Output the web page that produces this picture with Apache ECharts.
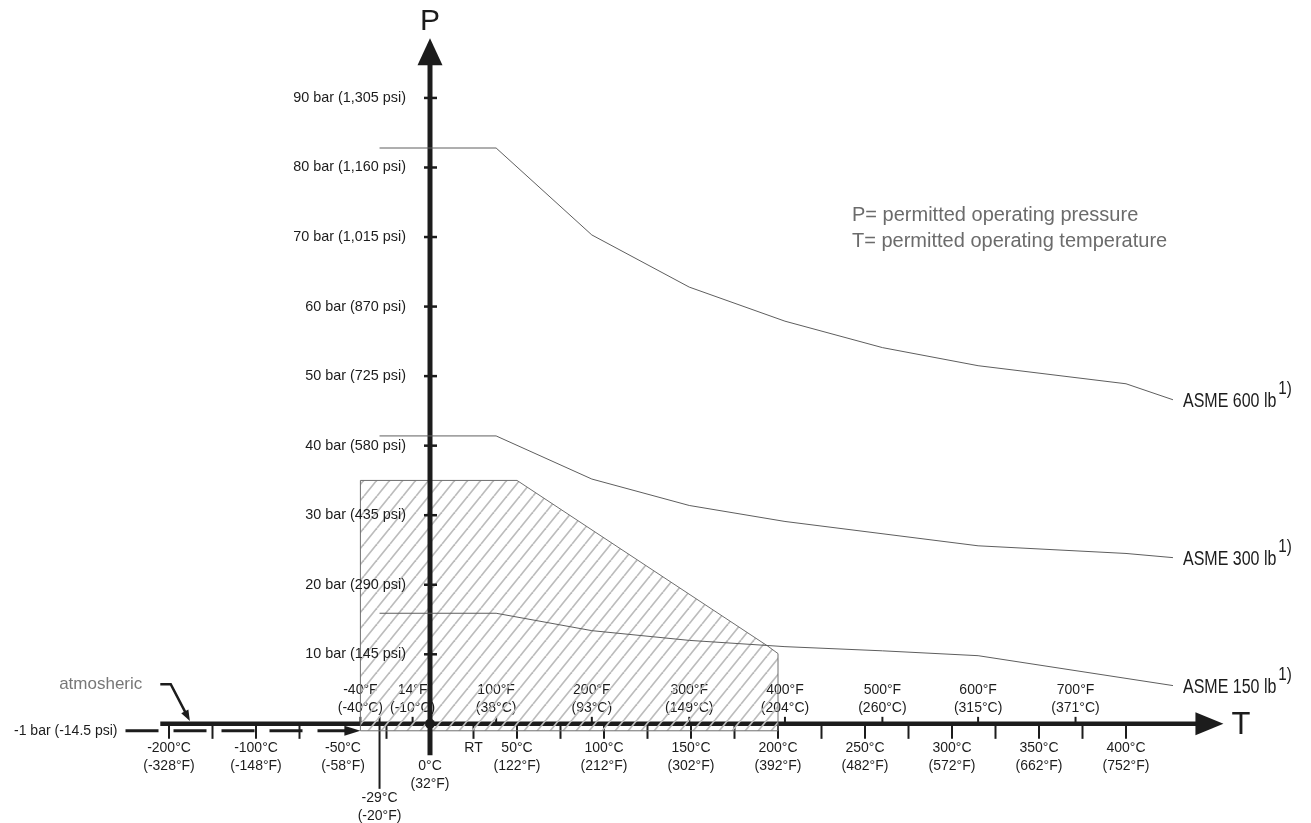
<!DOCTYPE html>
<html><head><meta charset="utf-8">
<script src="https://cdn.jsdelivr.net/npm/echarts@6/dist/echarts.min.js"></script>
<style>html,body{margin:0;padding:0;background:#fff}#c{width:1311px;height:823px}</style>
</head><body><div id="c"></div>
<script>
// ---------------- data ----------------
const asmeNames = ['ASME 150 lb', 'ASME 300 lb', 'ASME 600 lb'];
const temps150 = [-29, 38, 93, 149, 204, 260, 315, 427];
const press150 = [15.9, 15.9, 13.4, 12.0, 11.1, 10.5, 9.8, 5.5];
const temps300 = [-29, 38, 93, 149, 204, 315, 400, 427];
const press300 = [41.4, 41.4, 35.2, 31.4, 29.1, 25.6, 24.5, 23.9];
const temps600 = [-29, 38, 93, 149, 204, 260, 315, 400, 427];
const press600 = [82.8, 82.8, 70.3, 62.8, 57.9, 54.1, 51.5, 48.9, 46.6];
const zoneTemps = [-40, -40, 50, 194, 200, 200];
const zonePress = [-1, 35, 35, 11.2, 10.1, -1];
const pressTicks = [10, 20, 30, 40, 50, 60, 70, 80, 90];
const pressLabels = ['10 bar (145 psi)', '20 bar (290 psi)', '30 bar (435 psi)', '40 bar (580 psi)', '50 bar (725 psi)',
  '60 bar (870 psi)', '70 bar (1,015 psi)', '80 bar (1,160 psi)', '90 bar (1,305 psi)'];
const vacPress = -1;
const vacLabel = '-1 bar (-14.5 psi)';
const vacLineTemps = [-175, -40];
const cTicks = [-150, -125, -100, -75, -25, 25, 50, 75, 100, 125, 150, 175, 200, 225, 250, 275, 300, 325, 350, 375, 400];
const cLabelTemps = [-150, -100, -50, 0, 25, 50, 100, 150, 200, 250, 300, 350, 400];
const cLabels = ['-200°C\n(-328°F)', '-100°C\n(-148°F)', '-50°C\n(-58°F)', '0°C\n(32°F)', 'RT', '50°C\n(122°F)',
  '100°C\n(212°F)', '150°C\n(302°F)', '200°C\n(392°F)', '250°C\n(482°F)', '300°C\n(572°F)', '350°C\n(662°F)', '400°C\n(752°F)'];
const minTemp = -29;
const minTempLabel = '-29°C\n(-20°F)';
const fTickTemps = [-40, -10, 38, 93, 149, 204, 260, 315, 371];
const fLabels = ['-40°F\n(-40°C)', '14°F\n(-10°C)', '100°F\n(38°C)', '200°F\n(93°C)', '300°F\n(149°C)',
  '400°F\n(204°C)', '500°F\n(260°C)', '600°F\n(315°C)', '700°F\n(371°C)'];
const tAxisRange = [-155, 456];
const pAxisRange = [-4.5, 98.6];
const atmosTemps = [-155, -149, -138];
const atmosPress = [5.7, 5.7, 0.4];
const atmosLabel = 'atmosheric';
const noteText = 'P= permitted operating pressure\nT= permitted operating temperature';

// ---------------- helpers ----------------
const FONT = '"Liberation Sans", Arial, Helvetica, sans-serif';
const INK = '#1c1c1c';
const LBL = 14;

function arrowHead(tip, from, len, half) {
  const dx = tip[0] - from[0], dy = tip[1] - from[1];
  const L = Math.hypot(dx, dy), ux = dx / L, uy = dy / L;
  const bx = tip[0] - ux * len, by = tip[1] - uy * len;
  return [tip, [bx - uy * half, by + ux * half], [bx + uy * half, by - ux * half]];
}
function hatchCanvas() {
  const w = 13, h = 16;
  const c = document.createElement('canvas');
  c.width = w; c.height = h;
  const g = c.getContext('2d');
  g.strokeStyle = '#bcbcbc';
  g.lineWidth = 1.7;
  for (const dx of [-w, 0, w]) {
    g.beginPath(); g.moveTo(dx, h); g.lineTo(dx + w, 0); g.stroke();
  }
  return c;
}
const HATCH = hatchCanvas();
const measure = document.createElement('canvas').getContext('2d');

const chart = echarts.init(document.getElementById('c'));

function txt(x, y, text, align, vAlign, size, color) {
  return {type: 'text', style: {x: x, y: y, text: text, fill: color || INK, fontSize: size || LBL, fontFamily: FONT,
    align: align, verticalAlign: vAlign, lineHeight: 17.5}};
}

// x-axis frame (drawn below hatch)
function renderXFrame(params, api) {
  const o = api.coord([0, 0]);
  const ay = o[1];
  const start = api.coord([tAxisRange[0], 0]);
  const tip = api.coord([tAxisRange[1], 0]);
  const base = [tip[0] - 28, ay];
  const ch = [];
  ch.push({type: 'line', shape: {x1: start[0], y1: ay, x2: base[0] + 2, y2: ay}, style: {stroke: INK, lineWidth: 4.5}});
  ch.push({type: 'polygon', shape: {points: arrowHead(tip, base, 28, 11.5)}, style: {fill: INK}});
  cTicks.forEach(t => {
    const p = api.coord([t, 0]);
    ch.push({type: 'line', shape: {x1: p[0], y1: ay, x2: p[0], y2: ay + 15}, style: {stroke: INK, lineWidth: 2}});
  });
  fTickTemps.forEach(t => {
    const p = api.coord([t, 0]);
    ch.push({type: 'line', shape: {x1: p[0], y1: ay - 7, x2: p[0], y2: ay}, style: {stroke: INK, lineWidth: 2}});
  });
  const m = api.coord([minTemp, 0]);
  ch.push({type: 'line', shape: {x1: m[0], y1: ay - 7, x2: m[0], y2: ay + 65}, style: {stroke: INK, lineWidth: 2}});
  ch.push(txt(m[0], ay + 66, minTempLabel, 'center', 'top'));
  cLabelTemps.forEach((t, i) => {
    const p = api.coord([t, 0]);
    const off = t === 0 ? 34 : 16;
    ch.push(txt(p[0], ay + off, cLabels[i], 'center', 'top'));
  });
  fTickTemps.forEach((t, i) => {
    const p = api.coord([t, 0]);
    ch.push(txt(p[0], ay - 7, fLabels[i], 'center', 'bottom'));
  });
  ch.push(txt(tip[0] + 8, ay + 2, 'T', 'left', 'middle', 31));
  // vacuum (-1 bar) dashed line with arrow
  const v0 = api.coord([vacLineTemps[0], vacPress]);
  const v1 = api.coord([vacLineTemps[1], vacPress]);
  ch.push({type: 'line', shape: {x1: v0[0], y1: v0[1], x2: v1[0] - 14, y2: v1[1]}, style: {stroke: INK, lineWidth: 3, lineDash: [33, 15]}});
  ch.push({type: 'polygon', shape: {points: arrowHead(v1, [v1[0] - 15, v1[1]], 16, 5)}, style: {fill: INK}});
  ch.push(txt(v0[0] - 8, v0[1], vacLabel, 'right', 'middle'));
  // atmospheric pointer
  const ap = atmosTemps.map((t, i) => api.coord([t, atmosPress[i]]));
  const endIn = [ap[2][0] - (ap[2][0] - ap[1][0]) * 0.2, ap[2][1] - (ap[2][1] - ap[1][1]) * 0.2];
  ch.push({type: 'polyline', shape: {points: [ap[0], ap[1], endIn]}, style: {stroke: INK, lineWidth: 2.5, fill: null}});
  ch.push({type: 'polygon', shape: {points: arrowHead(ap[2], ap[1], 11, 4)}, style: {fill: INK}});
  ch.push(txt(ap[0][0] - 18, ap[0][1], atmosLabel, 'right', 'middle', 17, '#777'));
  return {type: 'group', children: ch};
}

function renderHatch(params, api) {
  const pts = zoneTemps.map((t, i) => api.coord([t, zonePress[i]]));
  return {type: 'polygon', shape: {points: pts}, style: {fill: {image: HATCH, repeat: 'repeat'}, stroke: '#6e6e6e', lineWidth: 1}};
}

function renderYFrame(params, api) {
  const o = api.coord([0, 0]);
  const ax = o[0];
  const bot = api.coord([0, pAxisRange[0]]);
  const tip = api.coord([0, pAxisRange[1]]);
  const base = [ax, tip[1] + 27];
  const ch = [];
  ch.push({type: 'line', shape: {x1: ax, y1: bot[1], x2: ax, y2: base[1] - 2}, style: {stroke: INK, lineWidth: 5}});
  ch.push({type: 'polygon', shape: {points: arrowHead(tip, base, 27, 12.5)}, style: {fill: INK}});
  ch.push({type: 'circle', shape: {cx: o[0], cy: o[1], r: 5}, style: {fill: INK}});
  pressTicks.forEach((p, i) => {
    const c = api.coord([0, p]);
    ch.push({type: 'line', shape: {x1: ax - 6, y1: c[1], x2: ax + 7, y2: c[1]}, style: {stroke: INK, lineWidth: 2.5}});
    ch.push(txt(ax - 24, c[1], pressLabels[i], 'right', 'middle', 14.4));
  });
  ch.push(txt(ax, tip[1] - 16, 'P', 'center', 'middle', 30));
  return {type: 'group', children: ch};
}

const asmeTemps = [temps150, temps300, temps600];
const asmePress = [press150, press300, press600];
const NARROW_SCALE = 0.8;

function renderAsmeLabels(params, api) {
  const ch = [];
  measure.font = '20px ' + FONT;
  asmeNames.forEach((name, k) => {
    const ts = asmeTemps[k], ps = asmePress[k];
    const e = api.coord([ts[ts.length - 1], ps[ps.length - 1]]);
    const x = e[0] + 10, y = e[1] + 2;
    const w = measure.measureText(name).width * NARROW_SCALE;
    ch.push({type: 'text', x: x, y: y, scaleX: NARROW_SCALE,
      style: {x: 0, y: 0, text: name, fill: INK, fontSize: 20, fontFamily: FONT, align: 'left', verticalAlign: 'middle'}});
    ch.push({type: 'text', x: x + w + 2, y: y - 13, scaleX: NARROW_SCALE,
      style: {x: 0, y: 0, text: '1)', fill: INK, fontSize: 19, fontFamily: FONT, align: 'left', verticalAlign: 'middle'}});
  });
  return {type: 'group', children: ch};
}

const lineSeries = asmeNames.map((name, k) => ({
  type: 'line', name: name, z: 4, silent: true,
  data: asmeTemps[k].map((t, i) => [t, asmePress[k][i]]),
  showSymbol: false, symbol: 'none',
  lineStyle: {color: '#5e5e5e', width: 1},
  clip: false
}));

chart.setOption({
  animation: false,
  backgroundColor: '#ffffff',
  grid: {left: 125.5, right: 54.5, top: 28.4, bottom: 1.8, containLabel: false},
  xAxis: {type: 'value', min: -175, max: 475, show: false},
  yAxis: {type: 'value', min: -14, max: 100, show: false},
  graphic: [{
    type: 'text', left: 852, top: 203,
    style: {text: noteText, fill: '#6b6b6b', fontSize: 20, lineHeight: 25.7, fontFamily: FONT}
  }],
  series: [
    {type: 'custom', z: 1, silent: true, data: [[0, 0]], renderItem: renderXFrame},
    {type: 'custom', z: 2, silent: true, data: [[0, 0]], renderItem: renderHatch},
    {type: 'custom', z: 3, silent: true, data: [[0, 0]], renderItem: renderYFrame},
    ...lineSeries,
    {type: 'custom', z: 5, silent: true, data: [[0, 0]], renderItem: renderAsmeLabels}
  ]
});
</script>
</body></html>
